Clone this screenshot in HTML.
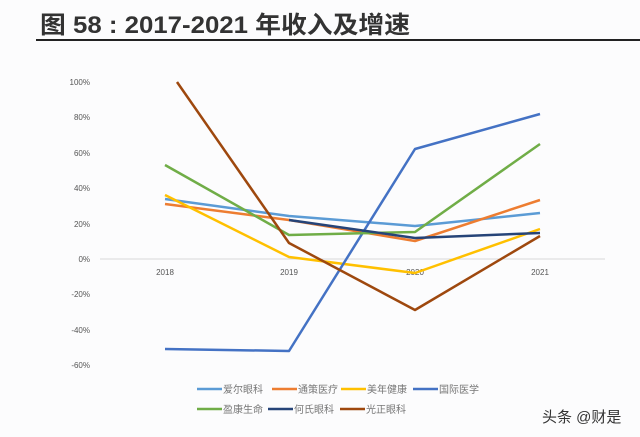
<!DOCTYPE html><html><head><meta charset="utf-8"><style>
body{margin:0;width:640px;height:437px;background:#fcfcfd;overflow:hidden;font-family:"Liberation Sans","Noto Sans CJK SC",sans-serif}
</style></head><body>
<svg width="640" height="437" xmlns="http://www.w3.org/2000/svg" style="position:absolute;left:0;top:0">
<text x="40" y="33" font-size="24" font-weight="bold" fill="#333" font-family="Liberation Sans,Noto Sans CJK SC,sans-serif" textLength="370" lengthAdjust="spacingAndGlyphs">图 58 : 2017-2021 年收入及增速</text>
<line x1="36" y1="40" x2="640" y2="40" stroke="#222" stroke-width="2"/>
<g font-size="8" fill="#555" text-anchor="end">
<text x="90" y="85">100%</text><text x="90" y="120">80%</text><text x="90" y="156">60%</text><text x="90" y="191">40%</text><text x="90" y="227">20%</text><text x="90" y="262">0%</text><text x="90" y="297">-20%</text><text x="90" y="333">-40%</text><text x="90" y="368">-60%</text>
</g>
<line x1="100" y1="259" x2="605" y2="259" stroke="#d9d9d9"/>
<g font-size="8" fill="#555" text-anchor="middle">
<text x="165" y="275">2018</text><text x="289" y="275">2019</text><text x="415" y="275">2020</text><text x="540" y="275">2021</text>
</g>
<g fill="none" stroke-width="2.5" stroke-linejoin="round">
<polyline stroke="#5B9BD5" points="165,199 289,216 415,226 540,213"/>
<polyline stroke="#ED7D31" points="165,204 289,220 415,241 540,200"/>
<polyline stroke="#FFC000" points="165,195 289,257 415,273 540,229"/>
<polyline stroke="#4472C4" points="165,349 289,351 415,149 540,114"/>
<polyline stroke="#70AD47" points="165,165 289,235 415,232 540,144"/>
<polyline stroke="#264478" points="289,220 415,238 540,233"/>
<polyline stroke="#9E480E" points="177,82 289,243 415,310 540,236"/>
</g>
<g stroke-width="2.5">
<line x1="197" y1="389" x2="222" y2="389" stroke="#5B9BD5"/>
<line x1="272" y1="389" x2="297" y2="389" stroke="#ED7D31"/>
<line x1="341" y1="389" x2="366" y2="389" stroke="#FFC000"/>
<line x1="413" y1="389" x2="438" y2="389" stroke="#4472C4"/>
<line x1="197" y1="409" x2="222" y2="409" stroke="#70AD47"/>
<line x1="268" y1="409" x2="293" y2="409" stroke="#264478"/>
<line x1="340" y1="409" x2="365" y2="409" stroke="#9E480E"/>
</g>
<g font-size="10" fill="#777">
<text x="223" y="393">爱尔眼科</text><text x="298" y="393">通策医疗</text><text x="367" y="393">美年健康</text><text x="439" y="393">国际医学</text>
<text x="223" y="413">盈康生命</text><text x="294" y="413">何氏眼科</text><text x="366" y="413">光正眼科</text>
</g>
<text x="542" y="422" font-size="15" fill="#333">头条 @财是</text>
</svg>
</body></html>
